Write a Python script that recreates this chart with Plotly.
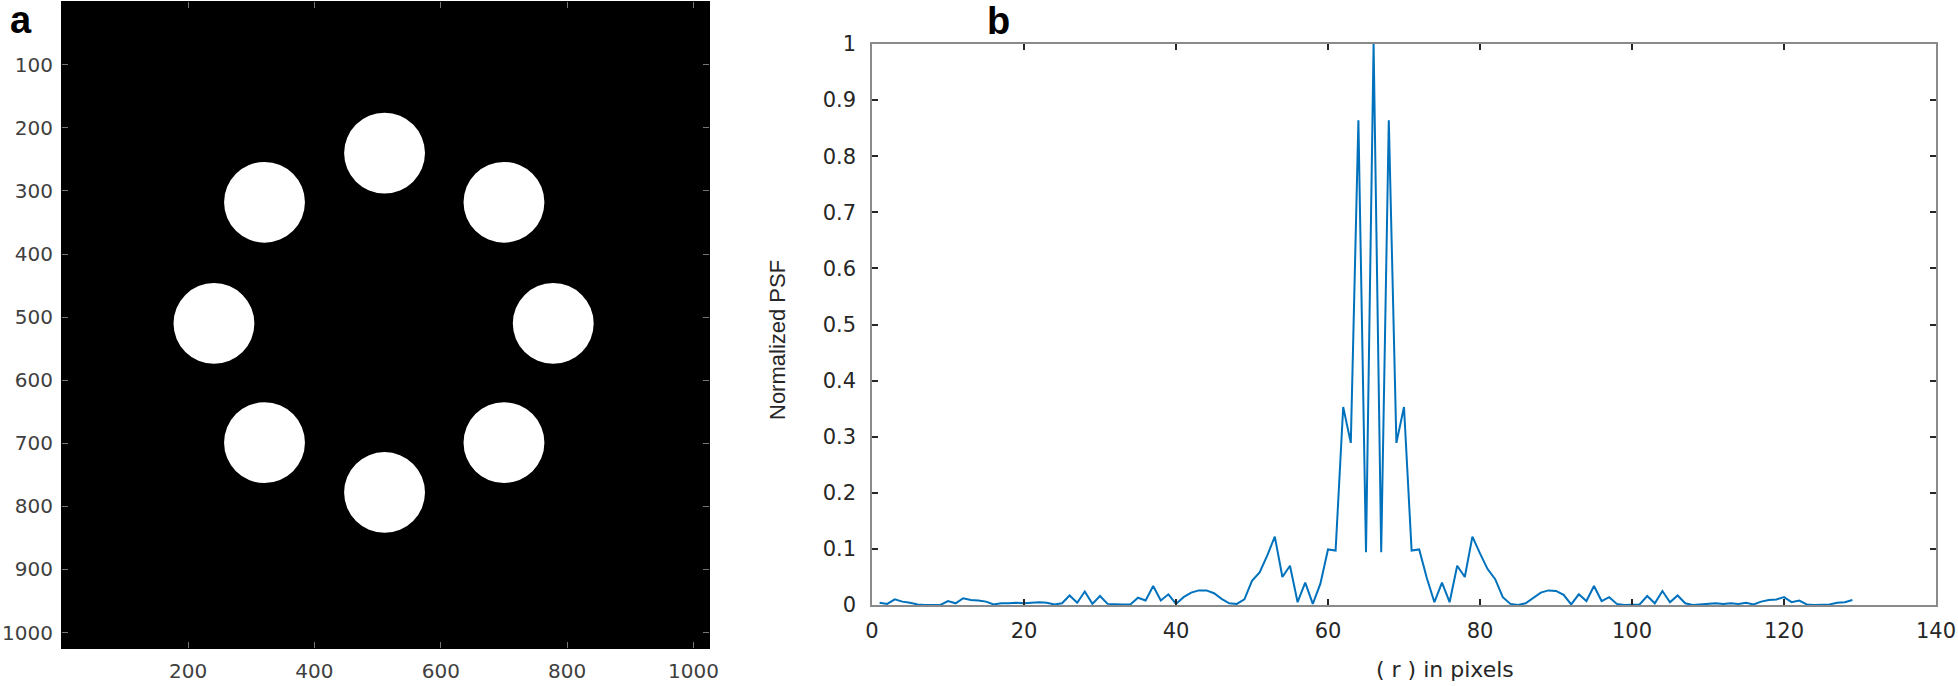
import plotly.graph_objects as go

# ---------------- data ----------------
# panel a: aperture mask (8 circular holes on a ring), image size 1024 x 1024
img_size = 1024
hole_cx = [511, 700, 778, 700, 511, 321, 241, 321]
hole_cy = [240, 318, 510, 699, 778, 699, 510, 318]
hole_r = 64
a_xticks = [200, 400, 600, 800, 1000]
a_yticks = [100, 200, 300, 400, 500, 600, 700, 800, 900, 1000]

# panel b: normalized PSF profile
r_pix = list(range(1, 130))
psf = [
    0.004, 0.002, 0.010, 0.006, 0.004, 0.001, 0.000, 0.000, 0.000, 0.007,
    0.003, 0.012, 0.009, 0.008, 0.006, 0.001, 0.003, 0.003, 0.004, 0.003,
    0.004, 0.005, 0.004, 0.001, 0.003, 0.017, 0.004, 0.024, 0.002, 0.016,
    0.002, 0.001, 0.001, 0.001, 0.013, 0.008, 0.034, 0.008, 0.019, 0.002,
    0.014, 0.022, 0.026, 0.026, 0.021, 0.011, 0.003, 0.002, 0.010, 0.043,
    0.058, 0.088, 0.122, 0.050, 0.070, 0.005, 0.040, 0.002, 0.038, 0.099,
    0.097, 0.353, 0.289, 0.864, 0.094, 1.000, 0.094, 0.864, 0.289, 0.353,
    0.097, 0.099, 0.048, 0.005, 0.040, 0.005, 0.070, 0.050, 0.122, 0.092,
    0.064, 0.046, 0.014, 0.002, 0.000, 0.003, 0.013, 0.022, 0.026, 0.025,
    0.018, 0.001, 0.019, 0.007, 0.034, 0.007, 0.014, 0.002, 0.000, 0.000,
    0.001, 0.016, 0.003, 0.025, 0.005, 0.017, 0.003, 0.000, 0.001, 0.002,
    0.003, 0.002, 0.003, 0.002, 0.004, 0.001, 0.006, 0.009, 0.010, 0.014,
    0.005, 0.008, 0.001, 0.000, 0.000, 0.001, 0.004, 0.005, 0.009,
]
b_xticks = [0, 20, 40, 60, 80, 100, 120, 140]
b_yticks = [0, 0.1, 0.2, 0.3, 0.4, 0.5, 0.6, 0.7, 0.8, 0.9, 1]
b_yticktext = ["0", "0.1", "0.2", "0.3", "0.4", "0.5", "0.6", "0.7", "0.8", "0.9", "1"]

# ---------------- figure ----------------
W, H = 1958, 686
fig = go.Figure()

# invisible trace to anchor panel a axes
fig.add_trace(go.Scatter(x=[0.5, img_size + 0.5], y=[0.5, img_size + 0.5], mode="markers",
                         marker=dict(opacity=0), hoverinfo="skip", showlegend=False,
                         xaxis="x", yaxis="y"))

fig.add_trace(go.Scatter(x=r_pix, y=psf, mode="lines",
                         line=dict(color="#0072BD", width=2),
                         showlegend=False, xaxis="x2", yaxis="y2"))

shapes = [dict(type="rect", xref="x domain", yref="y domain", x0=0, x1=1, y0=0, y1=1,
               fillcolor="black", line=dict(width=0), layer="below")]
for cx, cy in zip(hole_cx, hole_cy):
    shapes.append(dict(type="circle", xref="x", yref="y",
                       x0=cx - hole_r, x1=cx + hole_r, y0=cy - hole_r, y1=cy + hole_r,
                       fillcolor="white", line=dict(width=0), layer="below"))

tickfont_a = dict(family="DejaVu Sans", size=20, color="#404040")
tickfont_b = dict(family="DejaVu Sans", size=21, color="#262626")

fig.update_layout(
    width=W, height=H,
    margin=dict(l=0, r=0, t=0, b=0),
    paper_bgcolor="white", plot_bgcolor="white",
    shapes=shapes,
    xaxis=dict(domain=[62 / W, 709 / W], range=[0.5, img_size + 0.5], automargin=False,
               tickvals=a_xticks, ticks="inside", ticklen=6, tickcolor="#777777",
               showline=True, linecolor="black", linewidth=1, mirror="ticks",
               showgrid=False, zeroline=False, tickfont=tickfont_a,
               ticklabelstandoff=5, anchor="y"),
    yaxis=dict(domain=[1 - 648 / H, 1 - 2 / H], range=[img_size + 0.5, 0.5], automargin=False,
               tickvals=a_yticks, ticks="inside", ticklen=6, tickcolor="#777777",
               showline=True, linecolor="black", linewidth=1, mirror="ticks",
               showgrid=False, zeroline=False, tickfont=tickfont_a,
               ticklabelstandoff=4, anchor="x"),
    xaxis2=dict(domain=[872 / W, 1936 / W], range=[0, 140], automargin=False,
                tickvals=b_xticks, ticks="inside", ticklen=6, tickcolor="#262626",
                tickwidth=1.5,
                showline=True, linecolor="#8a8a8a", linewidth=1.5, mirror="ticks",
                showgrid=False, zeroline=False, tickfont=tickfont_b,
                ticklabelstandoff=6, anchor="y2"),
    yaxis2=dict(domain=[1 - 605 / H, 1 - 44 / H], range=[0, 1], automargin=False,
                tickvals=b_yticks, ticktext=b_yticktext,
                ticks="inside", ticklen=6, tickcolor="#262626", tickwidth=1.5,
                showline=True, linecolor="#8a8a8a", linewidth=1.5, mirror="ticks",
                showgrid=False, zeroline=False, tickfont=tickfont_b,
                ticklabelstandoff=10, anchor="x2"),
    annotations=[
        dict(text="<b>a</b>", x=8 / W, y=1 - 20 / H, xref="paper", yref="paper",
             xanchor="left", yanchor="middle", showarrow=False,
             font=dict(family="Liberation Sans", size=38, color="black")),
        dict(text="<b>b</b>", x=985 / W, y=1 - 21 / H, xref="paper", yref="paper",
             xanchor="left", yanchor="middle", showarrow=False,
             font=dict(family="Liberation Sans", size=38, color="black")),
        dict(text="Normalized PSF", x=777 / W, y=1 - 340 / H, xref="paper", yref="paper",
             xanchor="center", yanchor="middle", textangle=-90, showarrow=False,
             font=dict(family="Liberation Sans", size=22, color="#262626")),
        dict(text="( r ) in pixels", x=1445 / W, y=1 - 669 / H, xref="paper", yref="paper",
             xanchor="center", yanchor="middle", showarrow=False,
             font=dict(family="DejaVu Sans", size=22, color="#262626")),
    ],
)

fig.write_html("out.html", config={"displayModeBar": False},
               post_script="document.body.style.margin='0';document.body.style.overflow='hidden';")
